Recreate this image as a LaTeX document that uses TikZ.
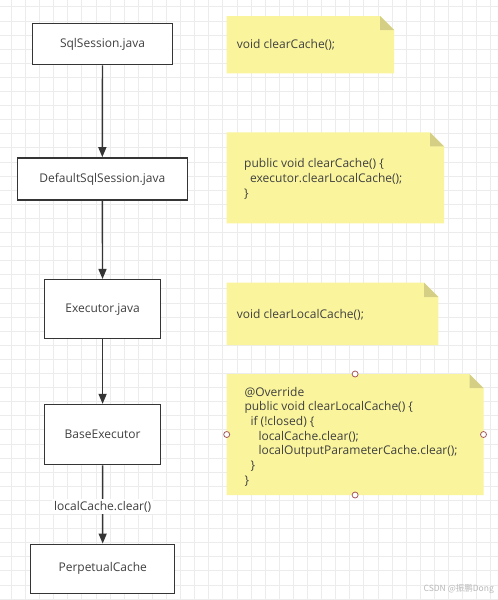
\documentclass[tikz,border=0pt]{standalone}
\usepackage{fontspec}
\usepackage{xcolor}
\setmainfont{Open Sans}
\newfontfamily\cjkfont{Noto Sans CJK SC}
\usetikzlibrary{arrows.meta}

\begin{document}
\begin{tikzpicture}[x=1pt, y=-1pt,
    caixa/.style={draw=linha, line width=1.5pt, fill=white, text=texto, font=\fontsize{12}{14}\selectfont, inner sep=0pt},
    seta/.style={draw=linha, line width=1.4pt, -{Triangle[length=10pt, width=8pt]}},
    nota/.style={text=texto, font=\fontsize{12}{14.7}\selectfont, align=left, inner sep=0pt, anchor=base west},
    alca/.style={circle, draw=alcaborda, fill=white, line width=0.8pt, inner sep=0pt, minimum size=6pt}]
% --- GRADE, CAIXAS, SETAS E NOTAS AMARELAS ---
\definecolor{linha}{HTML}{353535}
\definecolor{texto}{HTML}{404040}
\definecolor{grade}{HTML}{ECECEC}
\definecolor{papel}{HTML}{FAF59C}
\definecolor{dobra}{HTML}{D5CF86}
\definecolor{alcaborda}{HTML}{A5595A}

% LAYER 1: Fundo e grade
\useasboundingbox (0,0) rectangle (498,600);
\fill[white] (0,0) rectangle (498,600);
\foreach \gx in {11.2,25.3,...,498} \draw[grade, line width=0.6pt] (\gx,0) -- (\gx,600);
\foreach \gy in {6.7,20.8,...,600} \draw[grade, line width=0.6pt] (0,\gy) -- (498,\gy);

% LAYER 2: Classes
\node[caixa, minimum width=140pt, minimum height=41pt] (sqlsession) at (102.5,44.2) {SqlSession.java};
\node[caixa, minimum width=170pt, minimum height=42pt] (defaultsession) at (102.3,178.9) {DefaultSqlSession.java};
\node[caixa, minimum width=116pt, minimum height=59pt] (executor) at (102.6,309.2) {Executor.java};
\node[caixa, minimum width=116pt, minimum height=60pt] (baseexecutor) at (102.6,434.6) {BaseExecutor};
\node[caixa, minimum width=144pt, minimum height=49pt] (perpetual) at (102.7,568.8) {PerpetualCache};

% LAYER 3: Chamadas
\draw[seta] (sqlsession) -- (defaultsession);
\draw[seta] (defaultsession) -- (executor);
\draw[seta] (executor) -- (baseexecutor);
\draw[seta] (baseexecutor) -- (perpetual) node[pos=.53, fill=white, text=texto, inner sep=2pt, font=\fontsize{12}{14}\selectfont] (chamada) {localCache.clear()};

% LAYER 4: Notas com canto dobrado
\fill[papel] (226.7,16) -- (380,16) -- (394,30) -- (394,73.3) -- (226.7,73.3) -- cycle;
\fill[dobra] (380,16) -- (380,30) -- (394,30) -- cycle;
\node[nota] (nota1) at (236.7,48.3) {void clearCache();};

\fill[papel] (226.7,132.3) -- (430,132.3) -- (444,146.3) -- (444,223.3) -- (226.7,223.3) -- cycle;
\fill[dobra] (430,132.3) -- (430,146.3) -- (444,146.3) -- cycle;
\node[nota] (nota2) at (244,197) {public void clearCache() \{\\
\hspace*{6pt}executor.clearLocalCache();\\
\}};

\fill[papel] (226.7,282.7) -- (424,282.7) -- (438.3,297) -- (438.3,345) -- (226.7,345) -- cycle;
\fill[dobra] (424,282.7) -- (424,297) -- (438.3,297) -- cycle;
\node[nota] (nota3) at (236.7,318.5) {void clearLocalCache();};

\fill[papel] (226.7,374) -- (469.5,374) -- (483.5,388) -- (483.5,495) -- (226.7,495) -- cycle;
\fill[dobra] (469.5,374) -- (469.5,388) -- (483.5,388) -- cycle;
\node[nota] (nota4) at (244.3,484.2) {@Override\\
public void clearLocalCache() \{\\
\hspace*{6pt}if (!closed) \{\\
\hspace*{14pt}localCache.clear();\\
\hspace*{14pt}localOutputParameterCache.clear();\\
\hspace*{6pt}\}\\
\}};

% LAYER 5: Alcas de selecao da ultima nota
\node[alca] (alcaN) at (355.1,374) {};
\node[alca] (alcaO) at (226.7,434.5) {};
\node[alca] (alcaL) at (483.5,434.5) {};
\node[alca] (alcaS) at (355.1,495) {};

% LAYER 6: Marca d'agua
\node[anchor=base east, text=gray!55, inner sep=0pt, font=\cjkfont\fontsize{8.5}{10}\selectfont] (marca) at (494,591.5) {CSDN @振鹏Dong};
\end{tikzpicture}
\end{document}
